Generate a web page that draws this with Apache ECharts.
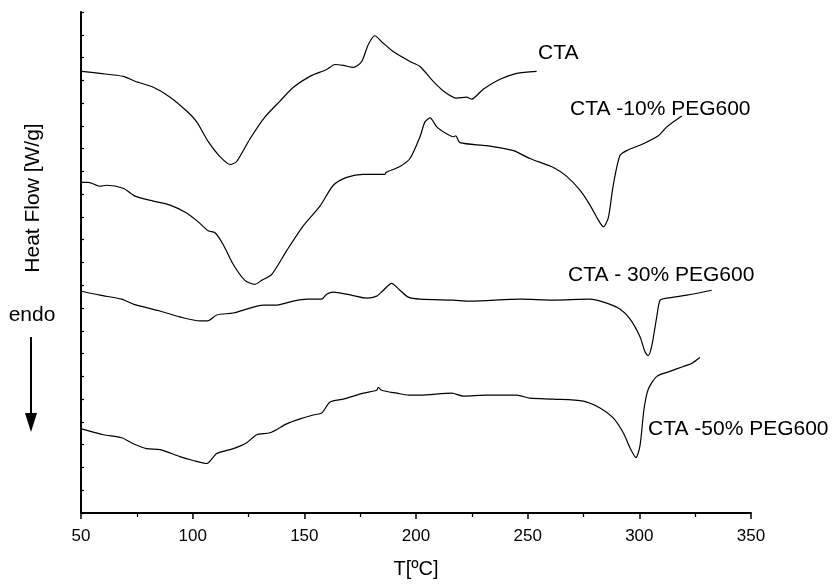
<!DOCTYPE html>
<html>
<head>
<meta charset="utf-8">
<script src="https://cdn.jsdelivr.net/npm/echarts@6/dist/echarts.min.js"></script>
<style>
html,body{margin:0;padding:0;background:#fff;}
#c{width:834px;height:584px;}
</style>
</head>
<body>
<div id="c"></div>
<script>
// Temperature (°C) and heat flow (arbitrary, offset curves)
var cta_T  = [50.3,58.5,68.9,74.2,82.4,89.9,97.3,101.8,107.0,112.2,116.8,119.7,125.7,132.4,139.1,145.1,152.5,160.0,163.7,167.5,171.9,175.7,178.6,181.6,184.6,189.8,197.3,201.8,207.7,213.0,218.2,222.7,224.9,230.1,237.6,245.1,254.0];
var cta_HF = [446,444,441,436,430,420,406,395,375,360,352,355,378,400,416,430,441,448,453,452,450,456,473,482,476,466,456,451,436,425,419,420,418,428,438,444,446];

var p10_T  = [50.3,53.3,58.5,61.5,68.9,74.2,82.4,89.9,97.3,102.5,107.0,110.0,113.7,118.2,123.4,127.9,130.9,135.4,142.1,149.5,157.0,163.0,169.0,176.4,186.1,186.6,192.8,197.3,201.8,204.0,206.3,209.3,213.7,216.7,217.8,219.7,231.7,243.6,251.0,261.5,267.5,273.4,277.9,281.6,283.9,286.1,288.3,291.3,294.3,301.8,308.5,312.3,319.0];
var p10_HF = [334,334,330,331,328,320,315,311,303,294,285,283,271,251,235,231,235,241,265,290,310,331,339,342,342,344,350,358,380,395,399,390,383,380,381,374,371,366,358,349,340,326,311,296,289,298,331,361,366,373,381,390,401];

var p30_T  = [50.3,58.5,68.2,73.4,85.4,94.3,103.3,106.7,110.8,118.2,125.7,131.6,137.6,145.1,151.1,157.8,160.0,163.0,169.0,177.9,182.4,185.4,189.1,192.8,196.6,201.8,216.7,224.2,246.6,261.5,277.9,285.4,291.3,295.8,300.3,302.5,303.9,305.5,307.8,309.3,312.3,321.2,332.4];
var p30_HF = [224,220,216,211,204,198,194,194,200,202,207,210,210,214,216,216,221,223,221,217,219,225,232,225,218,216,215,214,216,215,216,212,206,196,178,163,159,168,198,215,217,220,225];

var p50_T  = [50.3,60.0,68.2,73.4,79.4,85.4,94.3,100.3,106.3,110.8,118.2,124.2,128.7,134.6,142.1,148.1,154.0,157.8,161.5,167.5,176.4,182.4,183.1,184.6,191.4,196.6,201.8,216.0,221.2,231.7,245.1,251.0,261.5,274.9,282.4,288.3,292.8,295.8,298.5,300.3,302.1,304.0,307.8,313.7,319.7,323.4,327.1];
var p50_HF = [85,79,76,70,65,64,57,53,50,60,65,71,79,81,90,95,99,101,112,115,121,124,127,124,121,119,119,121,118,119,119,116,115,113,106,96,81,66,56,68,105,125,138,143,148,151,157];

var xTicks = [50,100,150,200,250,300,350];
var curveNames = ['CTA','CTA -10% PEG600','CTA - 30% PEG600','CTA -50% PEG600'];

function pairs(t, v){ return t.map(function(x,i){ return [x, v[i]]; }); }

var chart = echarts.init(document.getElementById('c'), null, {renderer:'canvas'});
var FONT = '"Liberation Sans", Arial, sans-serif';
var lineStyle = {color:'#000', width:1.2};
function mk(name, t, v){
  return {name:name, type:'line', data:pairs(t,v), showSymbol:false, symbol:'none', smooth:0.25,
          lineStyle:lineStyle, silent:true, animation:false};
}

chart.setOption({
  animation:false,
  backgroundColor:'#fff',
  grid:{left:81, right:83, top:12, bottom:66, containLabel:false},
  xAxis:{
    type:'value', min:xTicks[0], max:xTicks[xTicks.length-1], interval:50,
    name:'T[\u00baC]', nameLocation:'middle', nameGap:46,
    nameTextStyle:{fontFamily:FONT, fontSize:20, color:'#000'},
    axisLine:{lineStyle:{color:'#000', width:2}},
    axisTick:{length:6, lineStyle:{color:'#000', width:1.5}},
    minorTick:{show:true, splitNumber:2, length:4, lineStyle:{color:'#000', width:1.2}},
    axisLabel:{fontFamily:FONT, fontSize:17, color:'#000', margin:15},
    splitLine:{show:false}
  },
  yAxis:{
    type:'value', min:0, max:506, interval:23,
    axisLine:{show:true, lineStyle:{color:'#000', width:2}},
    axisTick:{show:true, inside:true, length:3, lineStyle:{color:'#000', width:1.2}},
    axisLabel:{show:false},
    splitLine:{show:false}
  },
  series:[
    mk(curveNames[0], cta_T, cta_HF),
    mk(curveNames[1], p10_T, p10_HF),
    mk(curveNames[2], p30_T, p30_HF),
    mk(curveNames[3], p50_T, p50_HF)
  ],
  graphic:[
    {type:'text', left:538, top:43, style:{text:curveNames[0], font:'21px '+FONT, fill:'#000'}},
    {type:'text', left:570, top:99, style:{text:curveNames[1], font:'21px '+FONT, fill:'#000'}},
    {type:'text', left:568, top:265, style:{text:curveNames[2], font:'21px '+FONT, fill:'#000'}},
    {type:'text', left:648, top:419, style:{text:curveNames[3], font:'21px '+FONT, fill:'#000'}},
    {type:'text', x:33, y:198, rotation:Math.PI/2,
      style:{text:'Heat Flow [W/g]', font:'21px '+FONT, fill:'#000', align:'center', verticalAlign:'middle'}},
    {type:'text', x:32, y:315, style:{text:'endo', font:'21px '+FONT, fill:'#000', align:'center', verticalAlign:'middle'}},
    {type:'line', shape:{x1:31, y1:337, x2:31, y2:415}, style:{stroke:'#000', lineWidth:2}},
    {type:'polygon', shape:{points:[[25,413],[37,413],[31,432]]}, style:{fill:'#000'}}
  ]
});
</script>
</body>
</html>
